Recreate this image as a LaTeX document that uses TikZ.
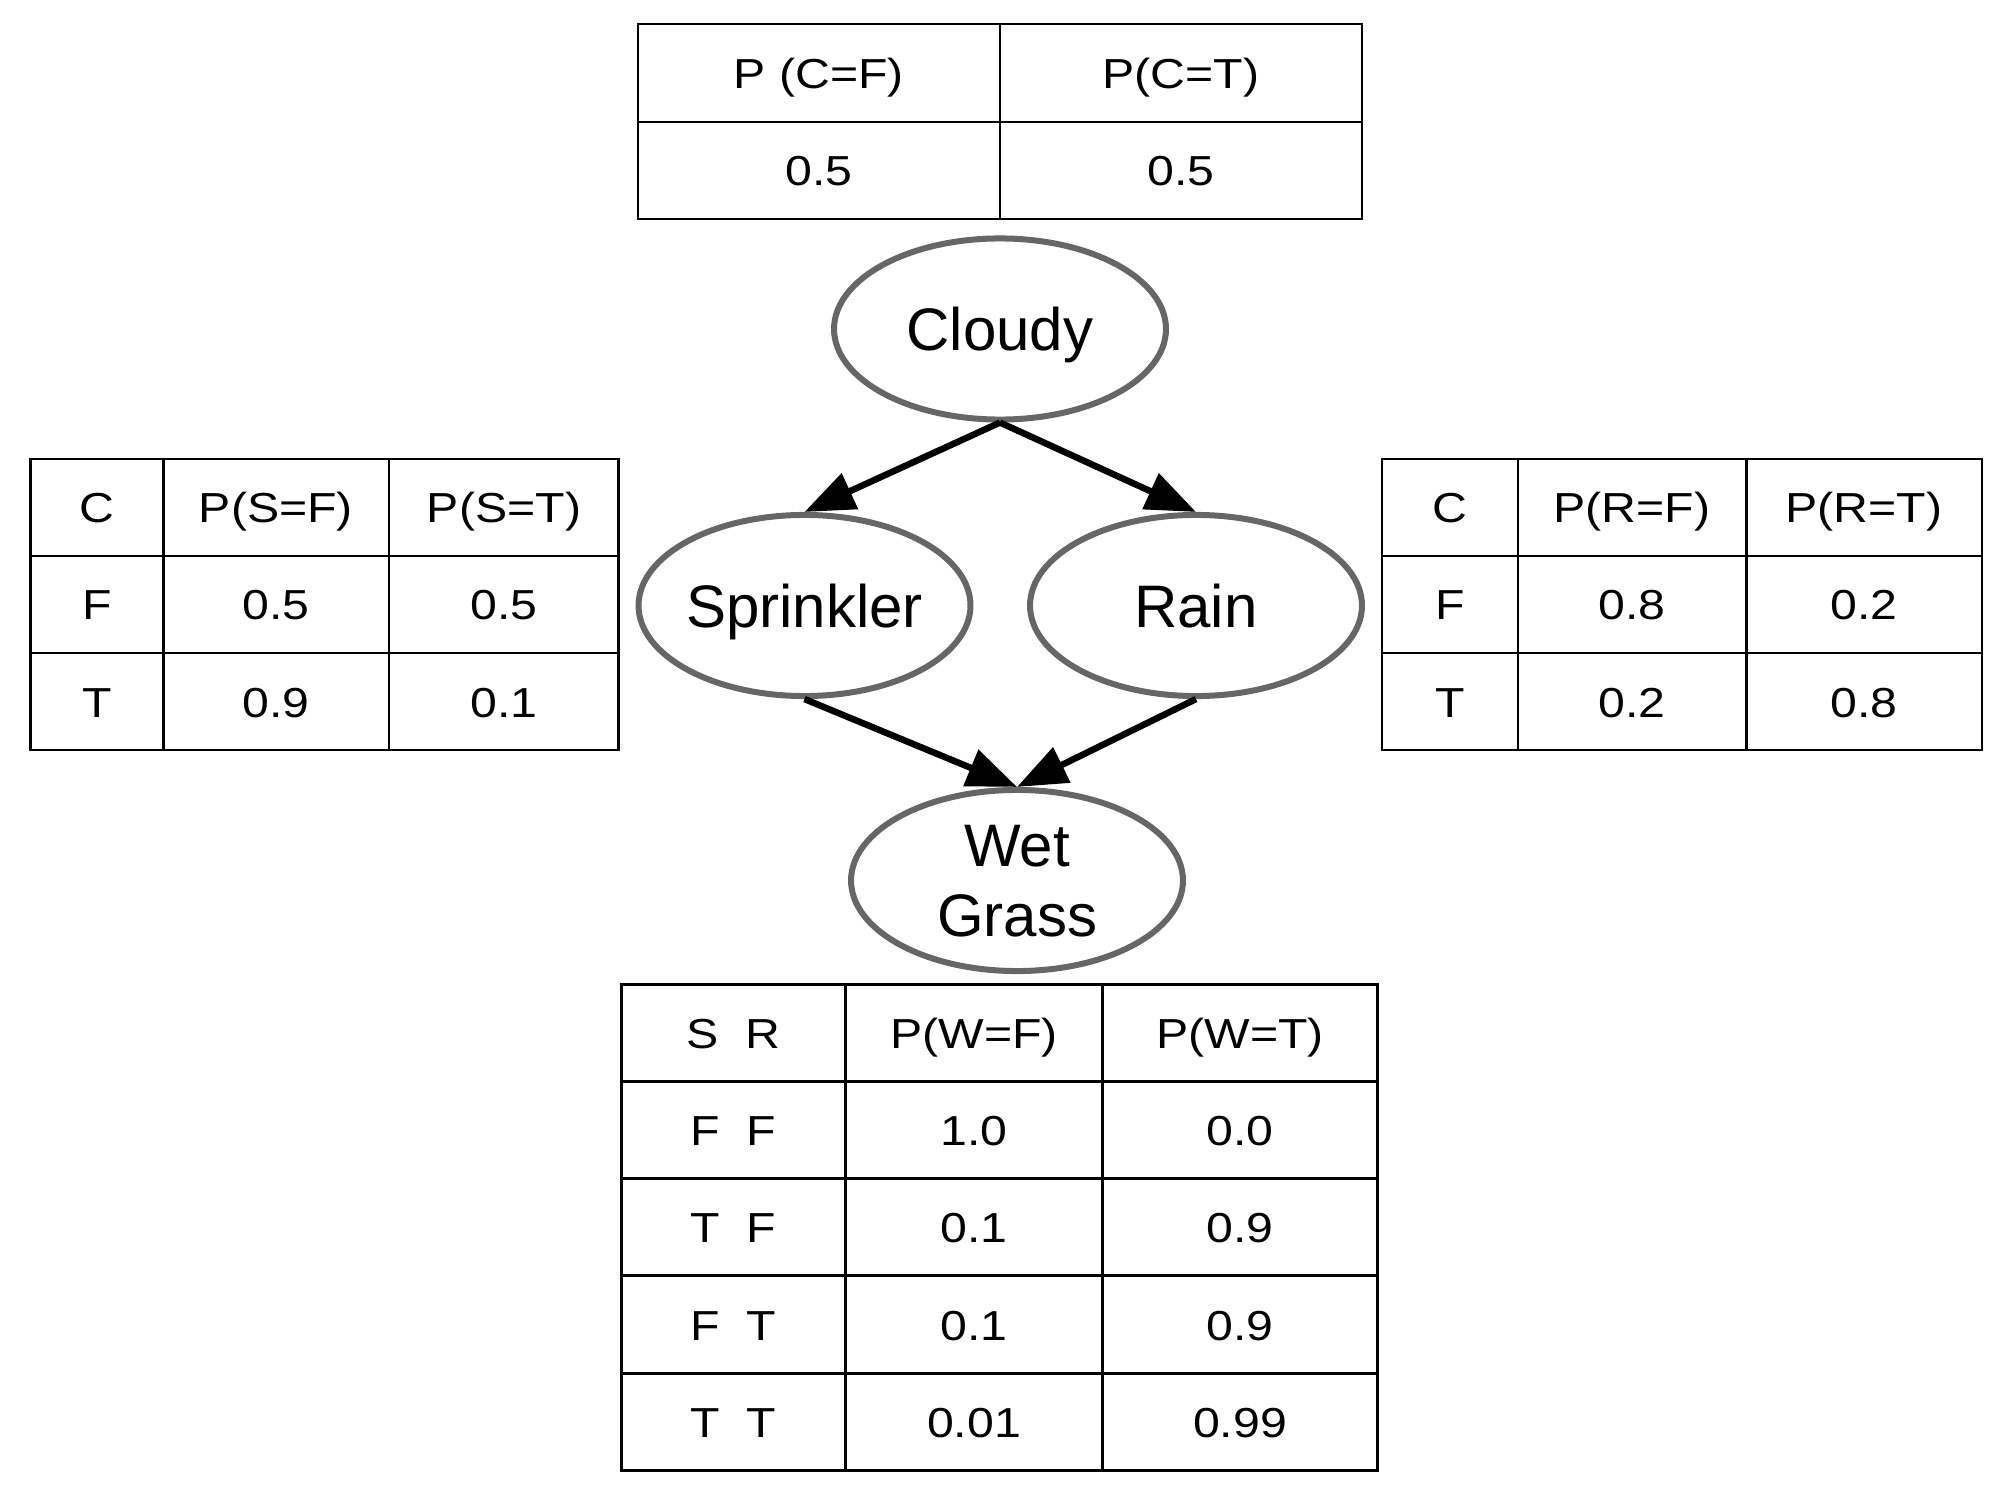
\documentclass[tikz,border=0pt]{standalone}
\usepackage{fontspec}
\setmainfont{Liberation Sans}
\newfontfamily\tabfont[FakeStretch=1.15]{Liberation Sans}
\usetikzlibrary{shapes.geometric,arrows.meta}
\definecolor{ellgray}{HTML}{666666}
\begin{document}
\begin{tikzpicture}[x=0.36pt,y=-0.36pt,
  ell/.style={ellipse,draw=ellgray,line width=2.16pt,minimum width=119.5pt,minimum height=65.2pt,inner sep=0pt},
  elltext/.style={font=\fontsize{21.6}{25.2}\selectfont,anchor=base,inner sep=0pt},
  cell/.style={font=\tabfont\fontsize{15.1}{18}\selectfont,anchor=base,inner sep=0pt},
  grid/.style={line width=0.9pt,draw=black},
  arr/.style={line width=2.34pt,-{Triangle[length=18pt,width=13.7pt]}}]
\useasboundingbox (0,0) rectangle (2000,1500);
\fill[white] (0,0) rectangle (2000,1500);

% ---------- top table ----------
\draw[grid] (638,24) rectangle (1362,219);
\draw[grid] (1000,24) -- (1000,219);
\draw[grid] (638,122) -- (1362,122);
\node[cell] (c1) at (819,89) {P (C=F)};
\node[cell] (c2) at (1181,89) {P(C=T)};
\node[cell] (c3) at (819,186) {0.5};
\node[cell] (c4) at (1181,186) {0.5};

% ---------- left table ----------
\draw[grid] (30.6,459) rectangle (618.6,750);
\draw[grid] (163.3,459) -- (163.3,750);
\draw[grid] (389,459) -- (389,750);
\draw[grid] (30.6,556) -- (618.6,556);
\draw[grid] (30.6,653) -- (618.6,653);
\node[cell] (s1) at (97,523) {C};
\node[cell] (s2) at (276,523) {P(S=F)};
\node[cell] (s3) at (504,523) {P(S=T)};
\node[cell] (s4) at (97,620) {F};
\node[cell] (s5) at (276,620) {0.5};
\node[cell] (s6) at (504,620) {0.5};
\node[cell] (s7) at (97,717) {T};
\node[cell] (s8) at (276,717) {0.9};
\node[cell] (s9) at (504,717) {0.1};

% ---------- right table ----------
\draw[grid] (1382,459) rectangle (1982,750);
\draw[grid] (1518,459) -- (1518,750);
\draw[grid] (1746.5,459) -- (1746.5,750);
\draw[grid] (1382,556) -- (1982,556);
\draw[grid] (1382,653) -- (1982,653);
\node[cell] (r1) at (1450,523) {C};
\node[cell] (r2) at (1632,523) {P(R=F)};
\node[cell] (r3) at (1864,523) {P(R=T)};
\node[cell] (r4) at (1450,620) {F};
\node[cell] (r5) at (1632,620) {0.8};
\node[cell] (r6) at (1864,620) {0.2};
\node[cell] (r7) at (1450,717) {T};
\node[cell] (r8) at (1632,717) {0.2};
\node[cell] (r9) at (1864,717) {0.8};

% ---------- bottom table ----------
\draw[grid] (621.5,984.7) rectangle (1377.6,1470.7);
\draw[grid] (845.5,984.7) -- (845.5,1470.7);
\draw[grid] (1102.5,984.7) -- (1102.5,1470.7);
\foreach \yy in {1081.6,1178.6,1275.5,1373.7}
  \draw[grid] (621.5,\yy) -- (1377.6,\yy);
\node[cell] (w1) at (733.5,1048.5) {S~~R};
\node[cell] (w2) at (974,1048.5) {P(W=F)};
\node[cell] (w3) at (1240,1048.5) {P(W=T)};
\node[cell] (w4) at (733.5,1145.5) {F~~F};
\node[cell] (w5) at (974,1145.5) {1.0};
\node[cell] (w6) at (1240,1145.5) {0.0};
\node[cell] (w7) at (733.5,1242.5) {T~~F};
\node[cell] (w8) at (974,1242.5) {0.1};
\node[cell] (w9) at (1240,1242.5) {0.9};
\node[cell] (w10) at (733.5,1340) {F~~T};
\node[cell] (w11) at (974,1340) {0.1};
\node[cell] (w12) at (1240,1340) {0.9};
\node[cell] (w13) at (733.5,1437.5) {T~~T};
\node[cell] (w14) at (974,1437.5) {0.01};
\node[cell] (w15) at (1240,1437.5) {0.99};

% ---------- network ----------
\node[ell] (cloudy) at (1000,329) {};
\node[ell] (spr) at (804.5,605.5) {};
\node[ell] (rain) at (1196,605.5) {};
\node[ell] (wet) at (1017,880.5) {};
\node[elltext] (tcloudy) at (1000,350.5) {Cloudy};
\node[elltext] (tspr) at (804.5,627) {Sprinkler};
\node[elltext] (train) at (1196,627) {Rain};
\node[elltext] (twet1) at (1017,866.7) {Wet};
\node[elltext] (twet2) at (1017,936.7) {Grass};

\draw[arr] (cloudy.south) -- (spr.north);
\draw[arr] (cloudy.south) -- (rain.north);
\draw[arr] (spr.south) -- (wet.north);
\draw[arr] (rain.south) -- (wet.north);
\end{tikzpicture}
\end{document}
